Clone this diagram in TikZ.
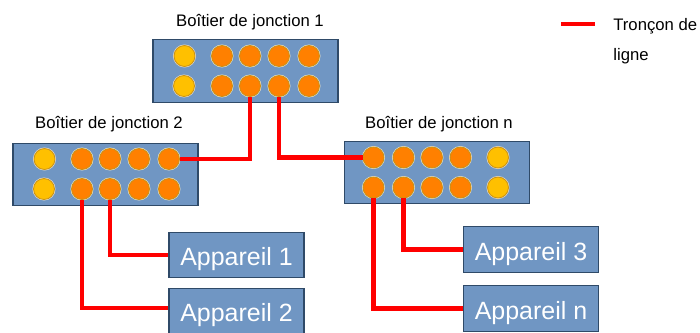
\documentclass[tikz,border=0pt]{standalone}
\usepackage{fontspec}
\setmainfont{Liberation Sans}

\definecolor{boitierbleu}{HTML}{7096C3}
\definecolor{boitierbord}{HTML}{2F4A68}
\definecolor{portorange}{HTML}{FF8000}
\definecolor{portjaune}{HTML}{FFC000}
\definecolor{portbord}{HTML}{C8921A}
\definecolor{portclair}{HTML}{F2E6CC}
\definecolor{troncon}{HTML}{FF0000}

\tikzset{
  boitier/.style={draw=boitierbord, fill=boitierbleu, line width=0.8pt, minimum width=3.7cm, minimum height=1.25cm, inner sep=0pt},
  appareil/.style={draw=boitierbord, fill=boitierbleu, line width=0.8pt, minimum width=2.7cm, minimum height=0.91cm, inner sep=0pt, text=white, text height=15pt, text depth=3pt, font=\fontsize{14.2pt}{16pt}\selectfont},
  titre/.style={font=\fontsize{9.5pt}{11pt}\selectfont, inner sep=0pt},
  port/.style={circle, draw=portbord, line width=0.5pt, minimum size=0.42cm, inner sep=0pt, preaction={draw=portclair, line width=1.1pt}},
  portO/.style={port, fill=portorange},
  portJ/.style={port, fill=portjaune},
  ligne/.style={draw=troncon, line width=2.4pt, line join=miter}
}

\begin{document}
\begin{tikzpicture}[x=0.02cm, y=-0.02cm]

\useasboundingbox (0,0) rectangle (700,332);

% Boitiers de jonction
\node[boitier] (bj1) at (245.5,71) {};
\node[boitier] (bj2) at (105.5,174.5) {};
\node[boitier] (bjn) at (437,172.5) {};

% Titres
\node[titre] (t1) at (250,22) {Boîtier de jonction 1};
\node[titre] (t2) at (109,124) {Boîtier de jonction 2};
\node[titre] (tn) at (439,124) {Boîtier de jonction n};

% Connecteurs du boitier 1
\foreach \x/\n in {222/b, 250/c, 279/d, 309/e} {
  \node[portO] (un\n h) at (\x,56) {};
  \node[portO] (un\n l) at (\x,86) {};
}
\node[portJ] (unah) at (184.5,56) {};
\node[portJ] (unal) at (184,86) {};

% Connecteurs du boitier 2
\foreach \x/\n in {82/b, 110/c, 139/d, 169/e} {
  \node[portO] (de\n h) at (\x,159) {};
  \node[portO] (de\n l) at (\x,189) {};
}
\node[portJ] (deah) at (44.5,159) {};
\node[portJ] (deal) at (44,189) {};

% Connecteurs du boitier n
\foreach \x/\n in {373.5/a, 403.5/b, 432/c, 460.5/d} {
  \node[portO] (en\n h) at (\x,157.5) {};
  \node[portO] (en\n l) at (\x,187.5) {};
}
\node[portJ] (eneh) at (498,157.5) {};
\node[portJ] (enel) at (498,187.5) {};

% Appareils
\node[appareil] (app1) at (236.5,255) {Appareil 1};
\node[appareil] (app2) at (236.5,311) {Appareil 2};
\node[appareil] (app3) at (531,249.5) {Appareil 3};
\node[appareil] (appn) at (531,308.5) {Appareil n};

% Troncons de ligne
\draw[ligne] (uncl.south) |- (deeh.east);
\draw[ligne] (undl.south) |- (enah.west);
\draw[ligne] (decl.south) |- (app1.west);
\draw[ligne] (debl.south) |- ([yshift=0.06cm]app2.west);
\draw[ligne] (enbl.south) |- (app3.west);
\draw[ligne] (enal.south) |- (appn.west);

% Legende
\coordinate (lg1) at (561,24);
\coordinate (lg2) at (595,24);
\draw[ligne] (lg1) -- (lg2);
\node[titre, anchor=west] (lgt1) at (613,26) {Tronçon de};
\node[titre, anchor=west] (lgt2) at (613,56) {ligne};

\end{tikzpicture}
\end{document}
